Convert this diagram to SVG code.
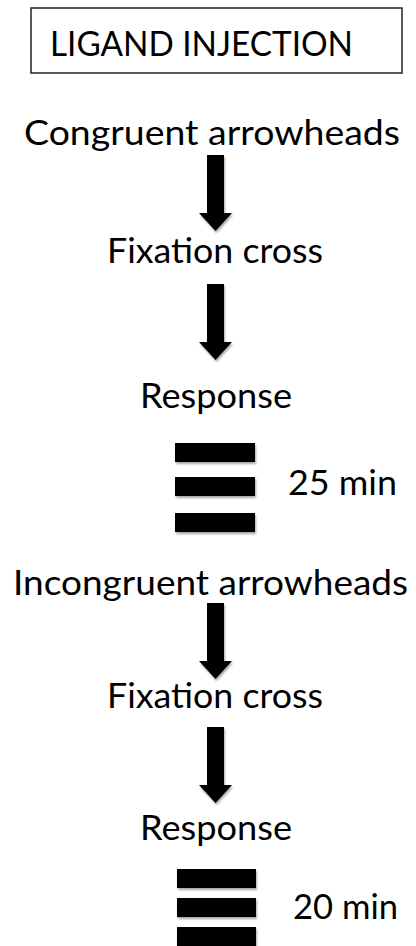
<svg xmlns="http://www.w3.org/2000/svg" width="416" height="946" viewBox="0 0 416 946">
  <style>
    .t { font-family: Lato, "Open Sans", "Liberation Sans", sans-serif; font-size: 34.5px; fill: #000; }
    .m { text-anchor: middle; }
    .box { fill: #fff; stroke: #222; stroke-width: 1.5; }
    .blk { fill: #000; }
  </style>
  <defs>
    <filter id="sh" x="-20%" y="-20%" width="140%" height="140%">
      <feDropShadow dx="1" dy="2" stdDeviation="1.2" flood-color="#000" flood-opacity="0.35"/>
    </filter>
    <path id="arr" d="M -8.5 0 H 8.5 V 58 H 16.5 L 0 76 L -16.5 58 H -8.5 Z"/>
  </defs>
  <rect width="416" height="946" fill="#fff"/>

  <g id="ligand">
    <rect class="box" x="31" y="8" width="371" height="65"/>
    <text class="t" x="50" y="56" textLength="303" lengthAdjust="spacingAndGlyphs">LIGAND INJECTION</text>
  </g>
  <g id="congruent">
    <text class="t m" x="212" y="145" textLength="376" lengthAdjust="spacingAndGlyphs">Congruent arrowheads</text>
  </g>
  <g id="fixation1">
    <text class="t m" x="215" y="263" textLength="216" lengthAdjust="spacingAndGlyphs">Fixation cross</text>
  </g>
  <g id="response1">
    <text class="t m" x="216" y="408" textLength="152" lengthAdjust="spacingAndGlyphs">Response</text>
  </g>
  <g id="break1">
    <g class="blk" filter="url(#sh)">
      <rect x="175" y="443" width="80" height="19"/>
      <rect x="175" y="477" width="80" height="19"/>
      <rect x="175" y="513" width="80" height="19"/>
    </g>
    <text class="t" x="288" y="495" textLength="109" lengthAdjust="spacingAndGlyphs">25 min</text>
  </g>
  <g id="incongruent">
    <text class="t m" x="210.5" y="595" textLength="395" lengthAdjust="spacingAndGlyphs">Incongruent arrowheads</text>
  </g>
  <g id="fixation2">
    <text class="t m" x="215" y="708" textLength="216" lengthAdjust="spacingAndGlyphs">Fixation cross</text>
  </g>
  <g id="response2">
    <text class="t m" x="216" y="840" textLength="152" lengthAdjust="spacingAndGlyphs">Response</text>
  </g>
  <g id="break2">
    <g class="blk" filter="url(#sh)">
      <rect x="177" y="869" width="79" height="19"/>
      <rect x="177" y="898" width="79" height="19"/>
      <rect x="177" y="927" width="79" height="19"/>
    </g>
    <text class="t" x="293" y="919" textLength="105" lengthAdjust="spacingAndGlyphs">20 min</text>
  </g>

  <g id="connectors" class="blk" filter="url(#sh)">
    <use href="#arr" x="215.5" y="155"/>
    <use href="#arr" x="215.5" y="284"/>
    <use href="#arr" x="215.5" y="603"/>
    <use href="#arr" x="215.5" y="727"/>
  </g>
</svg>
